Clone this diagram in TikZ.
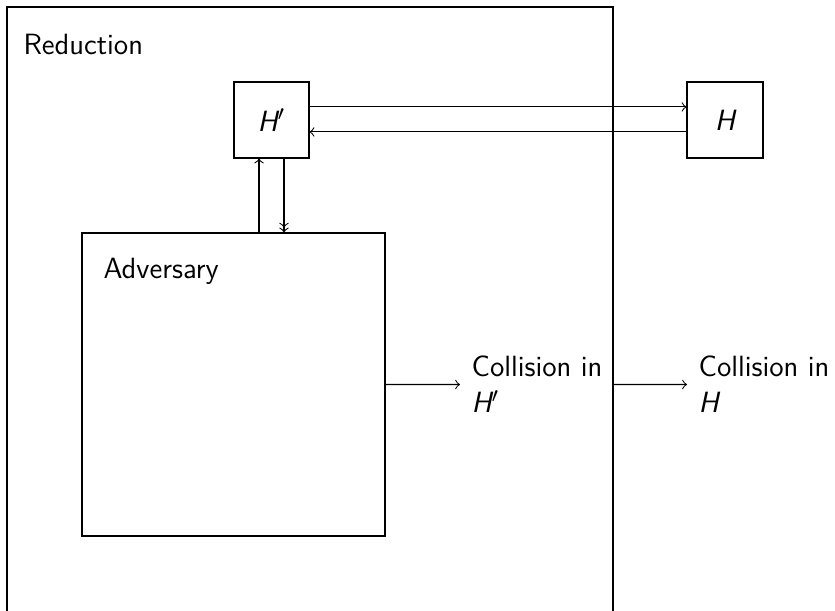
\documentclass[tikz,border=0pt]{standalone}
\usetikzlibrary{fit,positioning}
\begin{document}
\begin{tikzpicture}[x=0.0132cm,y=-0.0132cm,
  every node/.style={font=\sffamily\fontsize{11}{13.6}\selectfont},
  frame/.style={draw, inner sep=0pt},
  lbl/.style={inner sep=0pt, anchor=base west},
  outtext/.style={align=left, anchor=west, inner xsep=4.2pt, inner ysep=0pt}]
\useasboundingbox (0,0) rectangle (835,611);
% corner coordinates
\coordinate (r1) at (7,7);
\coordinate (r2) at (613,660);
\coordinate (hp1) at (234,82);
\coordinate (hp2) at (309,158);
\coordinate (h1) at (687,82);
\coordinate (h2) at (763,158);
\coordinate (a1) at (82,233);
\coordinate (a2) at (385,536);
% boxes
\node[frame, fit=(r1)(r2)] (red) {};
\node[frame, fit=(hp1)(hp2)] (hp) {};
\node at (hp.center) (hptext) {\itshape H$'$};
\node[frame, fit=(h1)(h2)] (h) {};
\node at (h.center) (htext) {\itshape H};
\node[frame, fit=(a1)(a2)] (adv) {};
% labels
\node[lbl] (redlbl) at (23,55) {Reduction};
\node[lbl] (advlbl) at (103,279) {Adversary};
% outputs
\node[outtext] (c1) at (460,384.5) {Collision in\\{\itshape H}$'$};
\node[outtext] (c2) at (687,384.5) {Collision in\\{\itshape H}};
% connectors
\draw[->] ([yshift=0.172cm]hp.east) -- ([yshift=0.172cm]h.west);
\draw[->] ([yshift=-0.158cm]h.west) -- ([yshift=-0.158cm]hp.east);
\draw[->] ([xshift=-0.165cm]hp.south |- adv.north) -- ([xshift=-0.165cm]hp.south);
\draw[->>] ([xshift=0.165cm]hp.south) -- ([xshift=0.165cm]hp.south |- adv.north);
\draw[->] (adv.east) -- (c1.west);
\draw[->] (adv.east -| red.east) -- (c2.west);
\end{tikzpicture}
\end{document}
